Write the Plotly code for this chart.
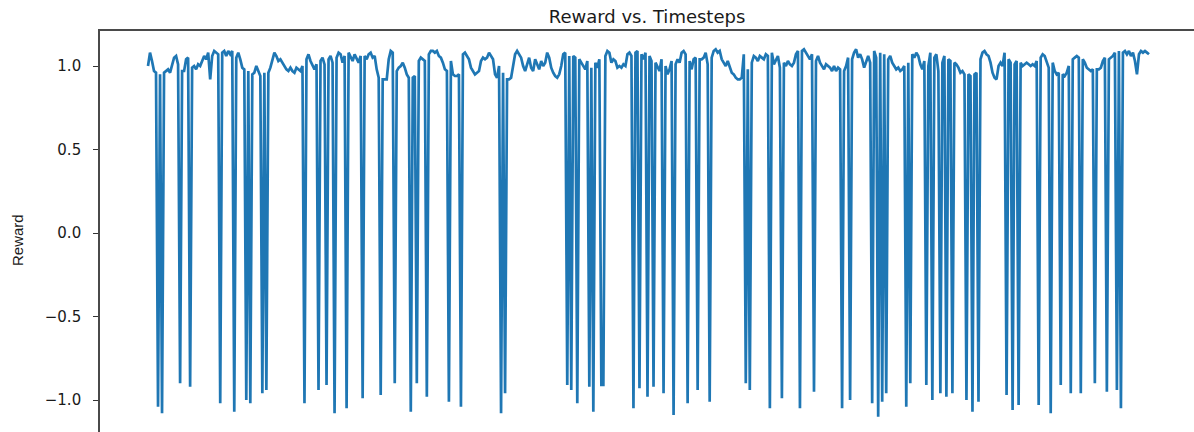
import plotly.graph_objects as go

# Episode reward recorded at each timestep
reward = [
    1.00, 1.08, 1.03, 0.97, 0.96, -1.04, 0.95, -1.08, 0.96, 0.97,
    0.98, 0.96, 1.00, 1.05, 1.06, 1.01, -0.90, 0.97, 0.97, 1.04,
    1.05, -0.92, 0.99, 1.00, 0.98, 1.01, 1.00, 1.03, 1.06, 1.04,
    1.08, 0.92, 1.06, 1.09, 1.08, 1.07, -1.02, 1.08, 1.09, 1.06,
    1.09, 1.07, 1.09, -1.07, 1.05, 1.08, 1.04, 0.99, 0.98, -1.00,
    0.97, -1.02, 0.95, 0.96, 1.00, 0.97, 0.94, -0.96, 0.96, -0.94,
    0.96, 0.99, 1.04, 1.08, 1.06, 1.03, 1.04, 1.02, 1.00, 0.98,
    0.97, 0.99, 0.97, 0.96, 0.99, 0.98, 0.97, 1.00, -1.02, 1.04,
    1.07, 1.03, 1.00, 0.98, 1.01, -0.94, 1.03, 1.05, 1.01, -0.91,
    1.04, 1.06, 1.02, -1.08, 1.05, 1.08, 1.07, 1.02, 1.06, -1.05,
    1.08, 1.05, 1.03, 1.07, 1.04, 1.02, 1.06, -0.99, 1.06, 1.04,
    1.07, 1.08, 1.05, 1.06, 0.98, 0.93, -0.97, 0.92, 0.92, 0.92,
    1.04, 1.09, 1.08, -0.90, 0.97, 0.99, 1.00, 1.02, 0.99, 0.95,
    0.93, -1.07, 0.93, 0.94, -0.90, 1.03, 1.05, 1.04, 1.03, -0.98,
    1.07, 1.09, 1.09, 1.08, 1.09, 1.06, 1.05, 1.02, 0.98, 0.97,
    -1.01, 1.03, 0.95, 0.94, 0.94, 0.95, -1.04, 1.07, 1.08, 1.06,
    1.04, 0.99, 0.97, 0.95, 0.96, 0.97, 1.03, 1.05, 1.04, 1.05,
    1.08, 1.06, 1.04, 0.95, 0.93, 1.00, -1.08, 0.96, -0.96, 0.92,
    0.92, 0.93, 1.01, 1.07, 1.09, 1.07, 1.05, 1.00, 0.97, 1.01,
    1.05, 0.99, 0.97, 1.04, 1.01, 0.98, 1.03, 1.00, 1.02, 1.08,
    1.05, 0.99, 0.96, 0.94, 0.93, 0.95, 1.00, 1.07, 1.08, -0.91,
    1.06, -0.94, 1.06, 1.05, -1.02, 1.04, 1.02, 1.00, 0.98, 1.03,
    -0.92, 0.99, -1.07, 1.02, 0.99, 1.04, -0.91, -0.91, 1.06, 1.09,
    1.08, 1.02, 1.04, 1.03, 0.99, 1.00, 0.99, 1.01, 1.00, 1.07,
    1.08, 1.06, -1.05, 1.08, 1.09, -0.93, 1.07, 1.04, 1.08, -0.98,
    1.06, 1.03, -0.92, 1.02, 0.99, 0.97, 1.04, -0.96, 1.00, 0.95,
    0.98, 1.03, -1.09, 1.01, 1.04, 1.02, 1.08, 1.09, 1.07, -1.02,
    1.03, 0.98, 1.04, 1.05, -0.94, 1.04, 1.04, 1.05, 1.08, 1.01,
    -1.01, 1.05, 1.09, 1.10, 1.08, 1.09, 1.04, 1.02, 1.00, 1.03,
    0.99, 0.96, 0.95, 0.93, 0.92, 0.92, 0.93, 1.07, -0.90, 0.98,
    -0.94, 1.02, 1.06, 1.05, 1.03, 1.06, 1.05, 1.04, 1.07, 1.06,
    -1.05, 1.08, 1.01, 1.04, 1.06, 0.99, -0.99, 1.02, 1.00, 1.03,
    1.01, 1.00, 1.02, 1.07, 1.09, -1.05, 1.09, 1.10, 1.08, 1.06,
    1.04, 1.07, -0.95, 1.03, 1.06, 1.02, 1.00, 0.98, 1.01, 1.00,
    0.99, 0.97, 1.00, 0.97, 0.99, 0.98, -1.05, 0.97, 1.00, 1.05,
    -1.00, 1.04, 1.08, 1.10, 1.05, 1.07, 1.04, 0.99, 1.03, 1.06,
    1.02, -1.02, 1.09, 1.05, -1.10, 1.08, -1.01, 1.07, -0.96, 1.04,
    1.06, 1.02, 1.00, 0.98, 0.99, 0.97, 0.98, 1.00, -1.04, 1.02,
    -0.90, 1.07, 1.05, 1.08, 1.06, 1.01, 0.98, 1.03, -0.91, 1.00,
    1.08, -1.00, 1.05, 1.07, 0.97, -0.96, 1.02, 1.06, -0.98, 1.04,
    1.03, -0.96, 1.02, 1.01, 0.99, 0.96, 0.97, 0.95, -1.00, 0.95,
    0.94, -1.07, 0.95, 0.96, -1.01, 1.04, 1.08, 1.09, 1.07, 1.06,
    1.02, 0.96, 0.93, 0.92, 1.00, 1.02, 1.00, 1.08, -0.97, 1.04,
    1.02, -1.06, 1.01, 1.03, -1.03, 1.02, 1.00, 1.01, 1.02, 1.01,
    1.00, 1.01, 1.00, 1.03, -1.03, 1.05, 1.07, 1.06, 1.03, 0.99,
    -1.08, 1.02, 0.97, 0.95, 0.96, -0.91, 0.95, 0.94, 0.96, 1.00,
    -0.96, 1.04, 1.05, 1.06, 1.05, -0.96, 1.04, 1.02, 0.99, 0.98,
    0.97, 0.98, -0.90, 0.98, 0.98, 0.99, 1.03, 1.05, -0.95, 1.04,
    1.05, 1.06, 1.08, -0.94, 1.09, -1.05, 1.08, 1.09, 1.07, 1.09,
    1.06, 1.08, 1.03, 0.95, 1.07, 1.09, 1.08, 1.09, 1.08, 1.07,
]
timesteps = list(range(len(reward)))

y_ticks = [-1.0, -0.5, 0.0, 0.5, 1.0]
y_tick_labels = ["\u22121.0", "\u22120.5", "0.0", "0.5", "1.0"]

# Figure geometry (pixels)
W, H = 1194, 432
LEFT, TOP = 100, 31
plot_w = W - LEFT
plot_h = H - TOP

# x scale: first sample 48 px inside the axes, last one 1001 px further right
n = len(timesteps)
px_per_step = 1001 / (n - 1)
x0 = -48 / px_per_step
x1 = x0 + plot_w / px_per_step

# y scale: 1.0 sits 35 px below the top spine, 167 px per unit
px_per_unit = 167
y1 = 1.0 + 35 / px_per_unit
y0 = y1 - plot_h / px_per_unit

fig = go.Figure(
    go.Scatter(
        x=timesteps,
        y=reward,
        mode="lines",
        line=dict(color="#1f77b4", width=2.7),
        hoverinfo="skip",
    )
)

fig.update_layout(
    width=W,
    height=H,
    margin=dict(l=LEFT, r=0, t=TOP, b=0, pad=0),
    paper_bgcolor="white",
    plot_bgcolor="white",
    showlegend=False,
    title=dict(
        text="Reward vs. Timesteps",
        x=(LEFT + plot_w / 2) / W,
        xanchor="center",
        xref="container",
        y=1 - 17 / H,
        yanchor="middle",
        yref="container",
        font=dict(family="DejaVu Sans", size=18, color="#1a1a1a"),
    ),
    xaxis=dict(
        range=[x0, x1],
        side="top",
        showline=True,
        linecolor="#4a4a4a",
        linewidth=1.6,
        showticklabels=False,
        ticks="",
        showgrid=False,
        zeroline=False,
    ),
    yaxis=dict(
        range=[y0, y1],
        tickvals=y_ticks,
        ticktext=y_tick_labels,
        ticks="outside",
        ticklen=5,
        tickwidth=1.3,
        tickcolor="#333333",
        ticklabelstandoff=9,
        showline=True,
        linecolor="#4a4a4a",
        linewidth=1.6,
        showgrid=False,
        zeroline=False,
        tickfont=dict(family="DejaVu Sans", size=15, color="#1a1a1a"),
    ),
    annotations=[
        dict(
            text="Reward",
            xref="paper",
            yref="paper",
            x=(18 - LEFT) / plot_w,
            y=1 - (240 - TOP) / plot_h,
            xanchor="center",
            yanchor="middle",
            textangle=-90,
            showarrow=False,
            font=dict(family="Liberation Sans Narrow, Liberation Sans, sans-serif",
                      size=15, color="#1a1a1a"),
        )
    ],
)

fig.write_html("out.html")
